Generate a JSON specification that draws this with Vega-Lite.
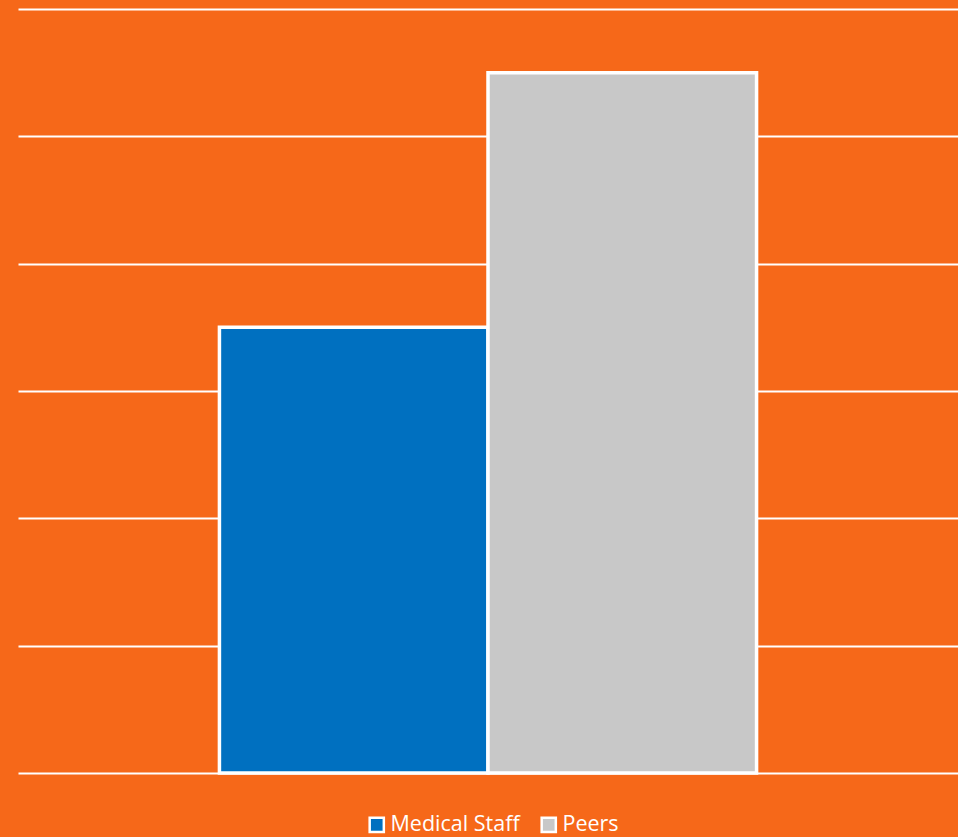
{
  "$schema": "https://vega.github.io/schema/vega-lite/v6.json",
  "width": 940,
  "height": 764,
  "autosize": {"type": "none"},
  "padding": {"left": 18, "top": 9, "right": 0, "bottom": 64},
  "background": "#F66819",
  "config": {"view": {"stroke": null}},
  "data": {"values": [
    {"group": "Medical Staff", "value": 3.5},
    {"group": "Peers", "value": 5.5}
  ]},
  "mark": {"type": "bar", "stroke": "white", "strokeWidth": 3.5},
  "encoding": {
    "x": {"field": "group", "type": "nominal", "sort": ["Medical Staff", "Peers"],
      "scale": {"paddingInner": 0, "paddingOuter": 0.75},
      "axis": null},
    "y": {"field": "value", "type": "quantitative",
      "scale": {"domain": [0, 6], "nice": false},
      "axis": {"title": null, "labels": false, "ticks": false, "domain": false,
        "grid": true, "gridColor": "white", "gridWidth": 2, "gridOpacity": 1, "values": [0,1,2,3,4,5,6]}},
    "color": {"field": "group", "type": "nominal",
      "scale": {"domain": ["Medical Staff", "Peers"], "range": ["#0070C0", "#C8C8C8"]},
      "legend": {"title": null, "orient": "none", "direction": "horizontal", "legendX": 348, "legendY": 805,
        "symbolType": "square", "symbolSize": 200, "symbolStrokeColor": "white", "symbolStrokeWidth": 2.5,
        "labelColor": "white", "labelFont": "Open Sans", "labelFontSize": 21.5, "labelOffset": 3,
        "columnPadding": 16, "symbolOpacity": 1}}
  }
}
